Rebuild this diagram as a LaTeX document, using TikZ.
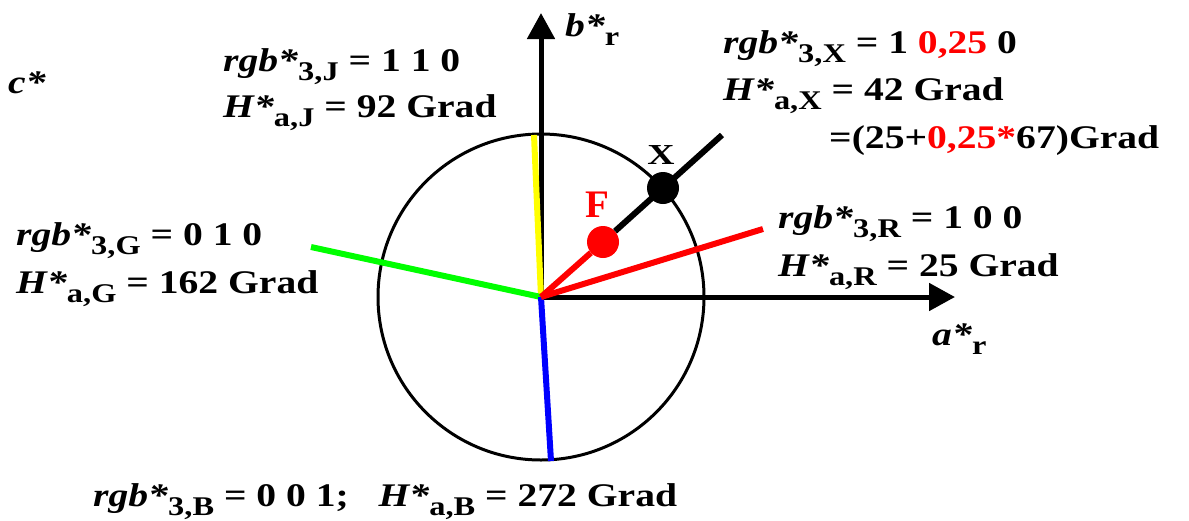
\documentclass[tikz,border=0pt]{standalone}
\usepackage{fontspec}
\setmainfont{Liberation Serif}
\usepackage{graphicx}
\usetikzlibrary{arrows.meta, positioning}
\definecolor{hueyellow}{rgb}{1,1,0}
\definecolor{huegreen}{rgb}{0,1,0}
\definecolor{hueblue}{rgb}{0,0,1}
\definecolor{huered}{rgb}{1,0,0}
\newcommand{\hsub}[1]{\raisebox{-9pt}{\fontsize{27}{27}\selectfont #1}}
\newcommand{\vrb}[1]{\textit{#1}}
\newcommand{\wide}[1]{\scalebox{1.2}[1]{#1}}

\begin{document}
\begin{tikzpicture}[
  x=1pt, y=-1pt, >=Stealth,
  lbl/.style={font=\fontsize{33}{40}\selectfont\bfseries, inner sep=0pt,
              anchor=base west},
  axis/.style={draw=black, line width=5pt,
               -{Triangle[length=26pt, width=27pt]}},
  ray/.style={line width=6pt},
  dot/.style={circle, fill, inner sep=0pt, minimum size=32pt}
]
  \useasboundingbox (0,0) rectangle (1189,520);
  \coordinate (O) at (541,297);
  % hue circle
  \draw[line width=3pt] (O) circle[radius=163];
  % axes
  \coordinate (Aend) at (955,297);
  \coordinate (Bend) at (541,13);
  \draw[axis] (O) -- (Aend);
  \draw[axis] (O) -- (Bend);
  \node[lbl] (astar) at (932,345) {\wide{\vrb{a*}\hsub{r}}};
  \node[lbl] (bstar) at (565,36) {\wide{\vrb{b*}\hsub{r}}};
  \node[lbl] (cstar) at (8,93) {\wide{\vrb{c*}}};
  % elementary hues
  \coordinate (Jend) at (534,135);
  \coordinate (Gend) at (311,247);
  \coordinate (Bhue) at (551,461);
  \coordinate (Rend) at (763,229);
  \coordinate (Xend) at (722,135);
  \draw[ray, hueyellow] (O) -- (Jend);
  \draw[ray, huegreen] (O) -- (Gend);
  \draw[ray, hueblue] (O) -- (Bhue);
  \draw[ray, huered] (O) -- (Rend);
  \node[dot, huered] (F) at (603,242) {};
  \node[dot, black] (X) at (663,188) {};
  \draw[ray, huered] (O) -- (F);
  \draw[ray, black] (F) -- (Xend);
  \node[font=\fontsize{39}{39}\selectfont\bfseries, text=huered, inner sep=0pt,
        anchor=base] (Flbl) at (597,217) {F};
  \node[font=\fontsize{29}{29}\selectfont\bfseries, inner sep=0pt,
        anchor=base] (Xlbl) at (661,164) {\scalebox{1.3}[1]{X}};
  % labels
  \node[lbl] (rgbJ) at (223,71) {\wide{\vrb{rgb*}\hsub{3,J} = 1 1 0}};
  \node[lbl] (hueJ) at (223,117) {\wide{\vrb{H*}\hsub{a,J} = 92 Grad}};
  \node[lbl] (rgbX) at (723,53)
    {\wide{\vrb{rgb*}\hsub{3,X} = 1 \textcolor{huered}{0,25} 0}};
  \node[lbl] (hueX) at (723,100) {\wide{\vrb{H*}\hsub{a,X} = 42 Grad}};
  \node[lbl] (sumX) at (829,148)
    {\wide{=(25+\textcolor{huered}{0,25*}67)Grad}};
  \node[lbl] (rgbG) at (16,245) {\wide{\vrb{rgb*}\hsub{3,G} = 0 1 0}};
  \node[lbl] (hueG) at (16,293) {\wide{\vrb{H*}\hsub{a,G} = 162 Grad}};
  \node[lbl] (rgbR) at (778,228) {\wide{\vrb{rgb*}\hsub{3,R} = 1 0 0}};
  \node[lbl] (hueR) at (778,276) {\wide{\vrb{H*}\hsub{a,R} = 25 Grad}};
  \node[lbl] (rgbB) at (93,506)
    {\wide{\vrb{rgb*}\hsub{3,B} = 0 0 1;\hspace{0.75em}\vrb{H*}\hsub{a,B} = 272 Grad}};
\end{tikzpicture}
\end{document}
